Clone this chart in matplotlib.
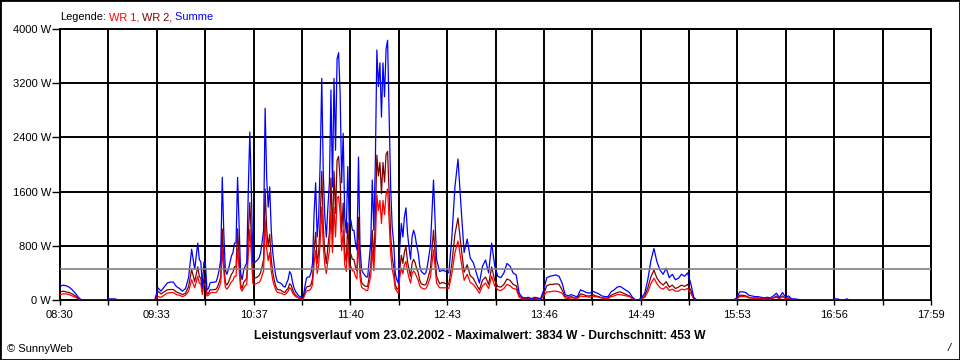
import numpy as np
import matplotlib
matplotlib.use("Agg")
import matplotlib.pyplot as plt
from matplotlib.patches import Rectangle
from matplotlib.offsetbox import TextArea, HPacker, AnchoredOffsetbox

FONT = "Liberation Sans"

# ---- data: minutes after 08:30 ----
span_min = 569  # 08:30 .. 17:59

# early part: 08:30 .. 09:58, 2-minute samples
t_early = list(range(0, 90, 2))
wr1_early = [
    80, 90, 90, 80, 60, 40, 20, 0, 0, 0,
    0, 0, 0, 0, 0, 0, 5, 5, 5, 0,
    0, 0, 0, 0, 0, 0, 0, 0, 0, 0,
    0, 0, 50, 40, 70, 100, 110, 110, 80, 70,
    50, 70, 130, 300, 180,
]
wr2_early = [
    120, 130, 120, 110, 90, 60, 20, 0, 0, 0,
    0, 0, 0, 0, 0, 0, 10, 10, 10, 0,
    0, 0, 0, 0, 0, 0, 0, 0, 0, 0,
    0, 0, 130, 90, 120, 150, 155, 155, 120, 100,
    80, 100, 200, 450, 270,
]

# peak part: 10:00 .. 12:29, 1-minute samples
t_peak = list(range(90, 240, 1))
wr1_peak = [
    350, 250, 240, 80, 240, 230, 60, 70, 100, 110,
    110, 110, 110, 140, 190, 250, 760, 420, 190, 160,
    190, 230, 270, 290, 350, 350, 760, 450, 170, 130,
    180, 210, 230, 680, 1040, 680, 240, 230, 240, 250,
    260, 290, 360, 430, 1190, 760, 580, 700, 430, 290,
    210, 150, 110, 110, 100, 100, 80, 80, 100, 130,
    180, 160, 100, 70, 50, 40, 30, 20, 10, 30,
    80, 130, 140, 140, 170, 230, 540, 730, 390, 520,
    870, 1370, 790, 520, 390, 580, 730, 1300, 700, 1370,
    930, 1500, 1530, 1280, 730, 1030, 520, 420, 830, 460,
    500, 430, 430, 350, 310, 890, 330, 190, 170, 160,
    140, 140, 250, 350, 740, 430, 850, 1550, 1320, 1470,
    1130, 1470, 1260, 1550, 1640, 1160, 700, 450, 350, 170,
    130, 100, 340, 470, 390, 520, 570, 420, 330, 250,
    390, 430, 400, 340, 290, 210, 180, 170, 160, 170,
]
wr2_peak = [
    490, 350, 320, 120, 320, 310, 90, 100, 150, 150,
    150, 155, 160, 200, 260, 340, 1050, 570, 260, 220,
    260, 320, 380, 410, 490, 490, 1050, 630, 230, 170,
    260, 290, 320, 940, 1440, 940, 320, 320, 330, 340,
    360, 400, 490, 600, 1640, 1050, 790, 970, 600, 410,
    290, 200, 160, 150, 150, 130, 120, 110, 150, 170,
    240, 220, 150, 100, 70, 50, 30, 30, 20, 30,
    120, 190, 200, 200, 230, 320, 740, 1000, 540, 710,
    1200, 1900, 1080, 710, 540, 790, 1000, 1800, 970, 1900,
    1280, 2060, 2120, 1770, 1000, 1430, 710, 570, 1140, 640,
    680, 600, 600, 490, 430, 1220, 450, 260, 230, 210,
    200, 200, 350, 490, 1030, 600, 1170, 2140, 1830, 2030,
    1570, 2030, 1740, 2150, 2194, 1590, 970, 630, 490, 230,
    170, 150, 460, 660, 540, 710, 790, 570, 450, 350,
    540, 600, 550, 460, 410, 290, 240, 230, 220, 230,
]

# late part: 12:30 .. 17:58, 2-minute samples
t_late = list(range(240, 570, 2))
wr1_late = [
    210, 340, 740, 250, 180, 180, 180, 170, 390, 700,
    870, 580, 290, 380, 260, 230, 170, 100, 210, 250,
    170, 350, 210, 150, 140, 170, 230, 210, 170, 160,
    40, 20, 10, 20, 10, 20, 10, 10, 60, 120,
    120, 130, 130, 120, 100, 30, 20, 30, 30, 20,
    60, 50, 50, 40, 50, 50, 40, 30, 20, 20,
    50, 60, 80, 80, 70, 60, 50, 20, 0, 0,
    20, 40, 120, 240, 320, 240, 180, 160, 200, 140,
    160, 130, 130, 160, 150, 170, 100, 20, 0, 0,
    0, 0, 0, 0, 0, 0, 0, 0, 0, 0,
    0, 10, 50, 50, 50, 30, 30, 20, 20, 20,
    10, 20, 10, 30, 40, 20, 50, 20, 30, 5,
    5, 5, 0, 0, 0, 0, 0, 0, 0, 0,
    0, 0, 0, 5, 5, 0, 0, 5, 0, 0,
    0, 0, 0, 0, 0, 0, 0, 0, 0, 0,
    0, 0, 0, 0, 0, 0, 0, 0, 0, 0,
    0, 0, 0, 0, 0,
]
wr2_late = [
    290, 460, 1030, 350, 240, 260, 240, 230, 540, 970,
    1210, 790, 410, 520, 360, 320, 230, 150, 290, 340,
    230, 490, 290, 200, 190, 230, 310, 290, 230, 210,
    60, 20, 20, 20, 10, 20, 20, 10, 90, 210,
    230, 230, 240, 230, 150, 50, 40, 50, 30, 30,
    90, 80, 60, 60, 80, 60, 50, 30, 30, 30,
    70, 90, 110, 120, 100, 80, 60, 20, 0, 0,
    20, 60, 180, 340, 440, 320, 260, 220, 270, 190,
    220, 170, 190, 220, 200, 230, 150, 20, 0, 0,
    0, 0, 0, 0, 0, 0, 0, 0, 0, 0,
    0, 20, 70, 70, 60, 40, 30, 30, 30, 20,
    20, 20, 20, 30, 60, 20, 60, 20, 30, 10,
    10, 5, 0, 0, 0, 0, 0, 0, 0, 0,
    0, 0, 0, 10, 10, 0, 0, 10, 0, 0,
    0, 0, 0, 0, 0, 0, 0, 0, 0, 0,
    0, 0, 0, 0, 0, 0, 0, 0, 0, 0,
    0, 0, 0, 0, 0,
]

avg_w = 453
max_w = 3834
date_str = "23.02.2002"
time_labels = ["08:30", "09:33", "10:37", "11:40", "12:43",
               "13:46", "14:49", "15:53", "16:56", "17:59"]
y_ticks = [0, 800, 1600, 2400, 3200, 4000]

t = np.array(t_early + t_peak + t_late, dtype=float)
wr1 = np.array(wr1_early + wr1_peak + wr1_late, dtype=float)
wr2 = np.array(wr2_early + wr2_peak + wr2_late, dtype=float)
summe = wr1 + wr2

# ---- figure ----
W, H = 960, 360
fig = plt.figure(figsize=(W / 100, H / 100), dpi=100)
fig.patch.set_facecolor("white")
ax = fig.add_axes([60 / W, 60 / H, 871 / W, 271 / H])

grid_x = np.linspace(0, span_min, 19)
ax.set_xlim(0, span_min)
ax.set_ylim(0, 4000)
ax.set_xticks(grid_x)
lbls = []
for k in range(19):
    lbls.append(time_labels[k // 2] if k % 2 == 0 else "")
ax.set_xticklabels(lbls)
ax.set_yticks(y_ticks)
ax.set_yticklabels([f"{v} W" for v in y_ticks])
ax.grid(True, color="black", linewidth=1.4, zorder=0)
ax.set_axisbelow(True)
for s in ax.spines.values():
    s.set_color("black")
    s.set_linewidth(1.4)
ax.tick_params(axis="x", direction="out", length=3.6, width=1.0, pad=3.5,
               labelsize=8, colors="black")
ax.tick_params(axis="y", direction="out", length=5.5, width=1.0, pad=1.0,
               labelsize=8, colors="black")
for lab in ax.get_xticklabels() + ax.get_yticklabels():
    lab.set_family(FONT)

ax.plot(t, wr2, color="#800000", lw=0.9, zorder=2)
ax.plot(t, wr1, color="#ff0000", lw=0.9, zorder=3)
ax.plot(t, summe, color="#0000ff", lw=0.9, zorder=4)
ax.axhline(avg_w, color="#808080", lw=1.2, zorder=5)

# legend line at top
parts = [("Legende:", "black"), (" WR 1,", "#ff0000"), (" WR 2,", "#800000"), (" Summe", "#0000ff")]
boxes = [TextArea(s, textprops=dict(color=c, fontsize=7.9, family=FONT)) for s, c in parts]
pack = HPacker(children=boxes, align="baseline", pad=0, sep=0)
ab = AnchoredOffsetbox(loc="lower left", child=pack, pad=0, borderpad=0, frameon=False,
                       bbox_to_anchor=(60 / W, (H - 22) / H), bbox_transform=fig.transFigure)
fig.add_artist(ab)

fig.text(480 / W, 1 - 336 / H,
         f"Leistungsverlauf vom {date_str} - Maximalwert: {max_w} W - Durchschnitt: {avg_w} W",
         ha="center", va="center", fontsize=8.7, fontweight="bold", family=FONT)
fig.text(7 / W, 1 - 349 / H, "\u00a9 SunnyWeb", ha="left", va="center", fontsize=8, family=FONT)
fig.text(949 / W, 1 - 348 / H, "/", ha="center", va="center", fontsize=8, style="italic", family=FONT)

fig.add_artist(Rectangle((0, 0), 1, 1, transform=fig.transFigure, fill=False,
                         edgecolor="black", linewidth=2.0))

fig.savefig("out.png", dpi=100, facecolor="white")
